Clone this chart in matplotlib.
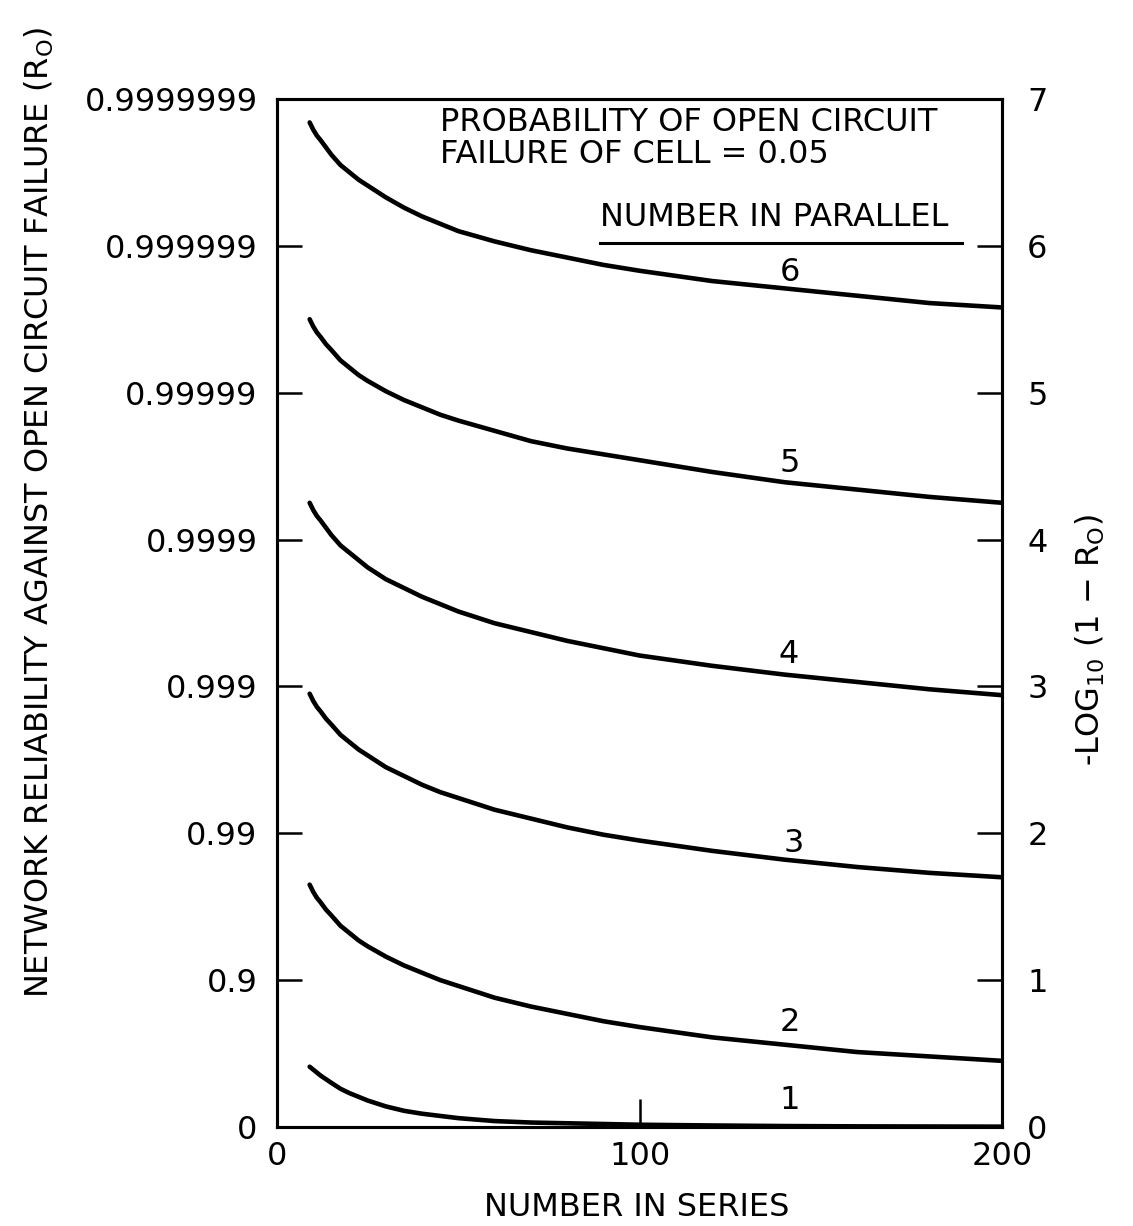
import matplotlib.pyplot as plt

plt.rcParams['font.family'] = ['DejaVu Sans']
plt.rcParams['mathtext.fontset'] = 'dejavusans'

# Number of cells in series (x axis)
n_series = [9, 10, 11, 12, 13.5, 15, 17.5, 20, 22.5, 25, 30, 35, 40, 45, 50,
            60, 70, 80, 90, 100, 120, 140, 160, 180, 200]

# -log10(1 - Ro), one list per number of cells in parallel
par_1 = [0.41, 0.39, 0.37, 0.35, 0.325, 0.30, 0.26, 0.23, 0.205, 0.18, 0.14, 0.11, 0.09, 0.075, 0.06,
         0.04, 0.03, 0.025, 0.02, 0.015, 0.010, 0.006, 0.004, 0.003, 0.002]
par_2 = [1.65, 1.60, 1.56, 1.53, 1.48, 1.44, 1.37, 1.32, 1.27, 1.23, 1.16, 1.10, 1.05, 1.00, 0.96,
         0.88, 0.82, 0.77, 0.72, 0.68, 0.61, 0.56, 0.51, 0.48, 0.45]
par_3 = [2.95, 2.90, 2.86, 2.83, 2.78, 2.74, 2.67, 2.62, 2.57, 2.53, 2.45, 2.39, 2.33, 2.28, 2.24,
         2.16, 2.10, 2.04, 1.99, 1.95, 1.88, 1.82, 1.77, 1.73, 1.70]
par_4 = [4.25, 4.20, 4.16, 4.13, 4.08, 4.03, 3.96, 3.91, 3.86, 3.81, 3.73, 3.67, 3.61, 3.56, 3.51,
         3.43, 3.37, 3.31, 3.26, 3.21, 3.14, 3.08, 3.03, 2.98, 2.94]
par_5 = [5.50, 5.45, 5.41, 5.38, 5.33, 5.29, 5.22, 5.17, 5.12, 5.08, 5.01, 4.95, 4.90, 4.85, 4.81,
         4.74, 4.67, 4.62, 4.58, 4.54, 4.46, 4.39, 4.34, 4.29, 4.25]
par_6 = [6.84, 6.79, 6.75, 6.72, 6.67, 6.62, 6.55, 6.50, 6.45, 6.41, 6.33, 6.26, 6.20, 6.15, 6.10,
         6.03, 5.97, 5.92, 5.87, 5.83, 5.76, 5.71, 5.66, 5.61, 5.58]

curve_names = ['1', '2', '3', '4', '5', '6']
left_labels = ['0', '0.9', '0.99', '0.999', '0.9999', '0.99999', '0.999999', '0.9999999']
right_labels = ['0', '1', '2', '3', '4', '5', '6', '7']
x_labels = ['0', '100', '200']

FS = 23

fig = plt.figure(figsize=(11.33, 12.26), dpi=100)
ax = fig.add_axes([0.2445, 0.0808, 0.640, 0.8385])

curves = [par_1, par_2, par_3, par_4, par_5, par_6]
for vals in curves:
    ax.plot(n_series, vals, color='black', lw=3.3, solid_capstyle='round',
            solid_joinstyle='round')

# curve labels sit just above each line near x ~ 141
label_y = [0.18, 0.71, 1.93, 3.22, 4.52, 5.82]
label_x = [141.5, 141.5, 142.5, 141, 141.5, 141.5]
for name, lx, ly in zip(curve_names, label_x, label_y):
    ax.text(lx, ly, name, fontsize=FS, ha='center', va='center')

ax.text(45, 6.84, 'PROBABILITY OF OPEN CIRCUIT', fontsize=FS, ha='left', va='center')
ax.text(45, 6.62, 'FAILURE OF CELL = 0.05', fontsize=FS, ha='left', va='center')
ax.text(89, 6.19, 'NUMBER IN PARALLEL', fontsize=FS, ha='left', va='center')
ax.plot([89, 189], [6.02, 6.02], color='black', lw=2.2)

ax.set_xlim(0, 200)
ax.set_ylim(0, 7)
ax.set_xticks([0, 100, 200])
ax.set_xticklabels(x_labels, fontsize=FS)
ax.set_yticks(range(8))
ax.set_yticklabels(left_labels, fontsize=FS)
ax.tick_params(axis='y', direction='in', length=18, width=1.8, pad=14)
ax.tick_params(axis='x', direction='in', length=20, width=1.8, pad=10)
for sp in ax.spines.values():
    sp.set_linewidth(2.2)

ax2 = ax.twinx()
ax2.set_ylim(0, 7)
ax2.set_yticks(range(8))
ax2.set_yticklabels(right_labels, fontsize=FS)
ax2.tick_params(axis='y', direction='in', length=18, width=1.8, pad=18)
for sp in ax2.spines.values():
    sp.set_linewidth(2.2)

fig.text(0.562, 0.0147, 'NUMBER IN SERIES', fontsize=FS, ha='center', va='center')
fig.text(0.035, 0.582, r'NETWORK RELIABILITY AGAINST OPEN CIRCUIT FAILURE (R$_\mathrm{O}$)',
         fontsize=FS, rotation=90, ha='center', va='center')
fig.text(0.962, 0.478, r'-LOG$_{10}$ (1 $-$ R$_\mathrm{O}$)',
         fontsize=FS, rotation=90, ha='center', va='center')

fig.savefig('out.png', dpi=100)
